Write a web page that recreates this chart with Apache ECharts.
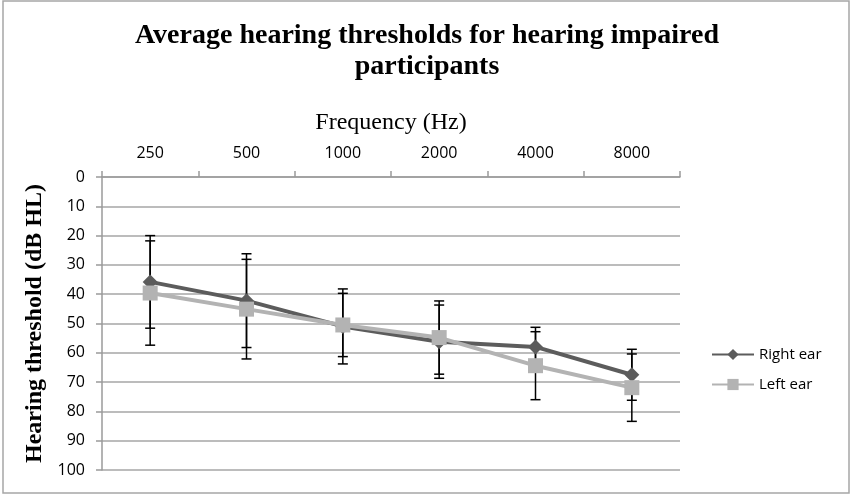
<!DOCTYPE html>
<html>
<head>
<meta charset="utf-8">
<script src="https://cdn.jsdelivr.net/npm/echarts@6/dist/echarts.min.js"></script>
<style>
html, body { margin: 0; padding: 0; background: #fff; }
#chart { width: 852px; height: 498px; }
</style>
</head>
<body>
<div id="chart"></div>
<script>
// frequencies (Hz)
var freqs = ["250", "500", "1000", "2000", "4000", "8000"];
// mean thresholds (dB HL) and error bar half-widths
var rightEar = [35.8, 42.2, 51, 56.2, 58, 67.5];
var rightErr = [15.8, 16, 12.8, 12.5, 6.7, 8.7];
var leftEar = [39.6, 45.1, 50.5, 54.8, 64.4, 71.9];
var leftErr = [17.8, 17, 10.8, 12.5, 11.6, 11.5];

function errData(vals, errs){
    var out = [];
    for(var i=0;i<vals.length;i++){
        out.push([i, vals[i] - errs[i], vals[i] + errs[i]]);
    }
    return out;
}

function renderErr(params, api){
    var x = api.value(0);
    var lo = api.coord([x, api.value(1)]);
    var hi = api.coord([x, api.value(2)]);
    var cap = 5;
    var st = { stroke: "#000", lineWidth: 1.5 };
    return {
        type: "group",
        children: [
            { type: "line", shape: { x1: lo[0], y1: lo[1], x2: hi[0], y2: hi[1] }, style: st },
            { type: "line", shape: { x1: lo[0]-cap, y1: lo[1], x2: lo[0]+cap, y2: lo[1] }, style: st },
            { type: "line", shape: { x1: hi[0]-cap, y1: hi[1], x2: hi[0]+cap, y2: hi[1] }, style: st }
        ]
    };
}

var chart = echarts.init(document.getElementById("chart"));
var option = {
    backgroundColor: "#fff",
    animation: false,
    graphic: [{
        type: "rect",
        shape: { x: 3, y: 1, width: 846, height: 492 },
        style: { fill: "none", stroke: "#a6a6a6", lineWidth: 1.5 },
        z: -1
    }],
    title: {
        text: "Average hearing thresholds for hearing impaired\nparticipants",
        left: 422,
        textAlign: "center",
        top: 15,
        textStyle: {
            fontFamily: "Liberation Serif",
            fontWeight: "bold",
            fontSize: 28,
            lineHeight: 31,
            color: "#000"
        }
    },
    legend: {
        orient: "vertical",
        left: 706,
        top: 342,
        itemWidth: 42,
        itemHeight: 14,
        itemGap: 15,
        textStyle: { fontFamily: "Open Sans", fontSize: 15, color: "#000" },
        data: ["Right ear", "Left ear"]
    },
    grid: { left: 102, right: 172, top: 177, bottom: 28 },
    xAxis: {
        type: "category",
        position: "top",
        data: freqs,
        name: "Frequency (Hz)",
        nameLocation: "middle",
        nameGap: 42,
        nameTextStyle: { fontFamily: "Liberation Serif", fontSize: 24, color: "#000" },
        axisLine: { lineStyle: { color: "#9a9a9a", width: 1.5 } },
        axisTick: { show: true, length: 6, lineStyle: { color: "#9a9a9a", width: 1.5 } },
        axisLabel: { fontFamily: "Open Sans", fontSize: 16, color: "#000", margin: 16 }
    },
    yAxis: {
        type: "value",
        inverse: true,
        min: 0,
        max: 100,
        interval: 10,
        name: "Hearing threshold (dB HL)",
        nameLocation: "middle",
        nameGap: 54,
        nameTextStyle: { fontFamily: "Liberation Serif", fontWeight: "bold", fontSize: 24, color: "#000" },
        axisLine: { show: true, lineStyle: { color: "#9a9a9a", width: 1.5 } },
        axisTick: { show: true, length: 6, lineStyle: { color: "#9a9a9a", width: 1.5 } },
        axisLabel: { fontFamily: "Open Sans", fontSize: 16, color: "#000", margin: 17 },
        splitLine: { lineStyle: { color: "#a6a6a6", width: 1.5 } }
    },
    series: [
        {
            type: "custom",
            name: "rightErr",
            renderItem: renderErr,
            data: errData(rightEar, rightErr),
            z: 1,
            silent: true
        },
        {
            type: "custom",
            name: "leftErr",
            renderItem: renderErr,
            data: errData(leftEar, leftErr),
            z: 1,
            silent: true
        },
        {
            name: "Right ear",
            type: "line",
            data: rightEar,
            symbol: "diamond",
            symbolSize: 15,
            lineStyle: { color: "#5c5c5c", width: 4 },
            itemStyle: { color: "#5c5c5c" },
            z: 3
        },
        {
            name: "Left ear",
            type: "line",
            data: leftEar,
            symbol: "rect",
            symbolSize: 15,
            lineStyle: { color: "#b3b3b3", width: 4 },
            itemStyle: { color: "#b3b3b3" },
            z: 4
        }
    ]
};
chart.setOption(option);
</script>
</body>
</html>
